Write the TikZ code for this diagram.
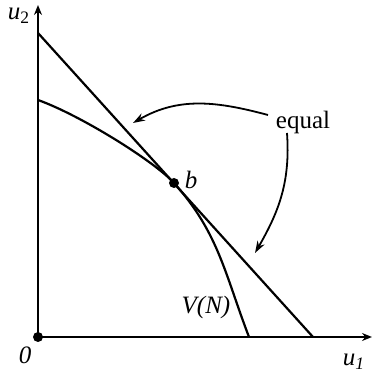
\documentclass[tikz,border=0pt]{standalone}
\usepackage{fontspec}
\setmainfont{Liberation Serif}
\usetikzlibrary{arrows.meta}
\tikzset{
  curveline/.style={line width=1.1pt},
  axisline/.style={line width=0.9pt,-{Stealth[length=5pt,width=4pt]}},
  pointer/.style={line width=0.9pt,-{Stealth[length=6pt,width=4pt]}},
  dot/.style={circle,fill,inner sep=0pt,minimum size=5pt},
  lbl/.style={font=\fontsize{12.5}{15}\selectfont}
}
\begin{document}
\begin{tikzpicture}[x=0.5pt,y=0.5pt]
\useasboundingbox (-38,-37) rectangle (335,337);
\coordinate (o) at (0,0);
\coordinate (ytop) at (0,332);
\coordinate (xend) at (334,0);
\coordinate (ta) at (0,304);
\coordinate (tb) at (275,0);
\coordinate (va) at (0,237);
\coordinate (vb) at (211,0);
\coordinate (bpt) at (136,154);
\draw[axisline] (o) -- (ytop);
\draw[axisline] (o) -- (xend);
\draw[curveline] (ta) -- (tb);
\draw[curveline] (va) .. controls (42,222) and (116,176) .. (bpt)
  to[out=-48,in=111] (vb);
\node[dot] (odot) at (o) {};
\node[dot] (bdot) at (bpt) {};
\node[lbl] (u2) at (-19,321) {\textit{u}\textsubscript{2}};
\node[lbl] (u1) at (316,-25) {\textit{u}\textsubscript{\textit{1}}};
\node[lbl] (zero) at (-13,-18) {\textit{0}};
\node[lbl] (blbl) at (153,157) {\textit{b}};
\node[lbl] (vn) at (168,30) {\textit{V(N)}};
\node[lbl] (eq) at (265,215) {equal};
\coordinate (s1) at (230,222);
\coordinate (s2) at (249,204);
\coordinate (e1) at (95,214);
\coordinate (e2) at (217,84);
\draw[pointer] (s1) to[out=165,in=30] (e1);
\draw[pointer] (s2) to[out=-86,in=60] (e2);
\end{tikzpicture}
\end{document}
